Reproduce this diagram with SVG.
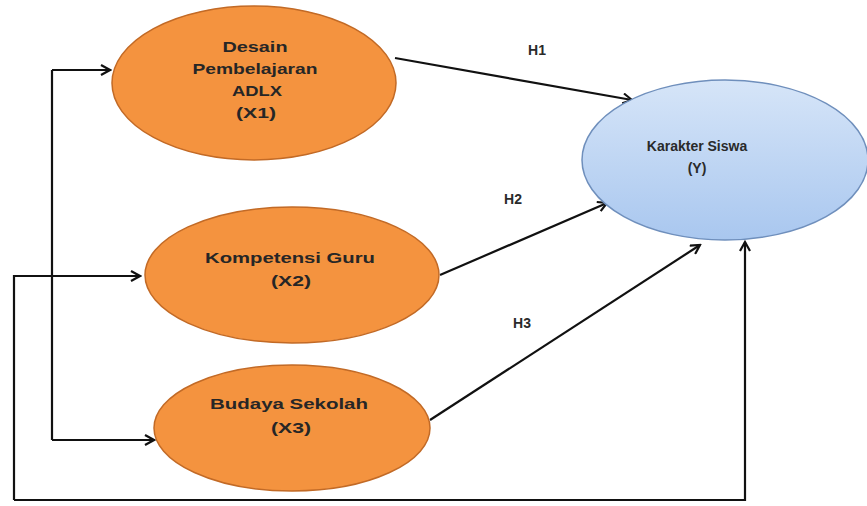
<svg xmlns="http://www.w3.org/2000/svg" width="867" height="506" viewBox="0 0 867 506">
<defs>
<linearGradient id="blue" x1="0" y1="0" x2="0" y2="1">
<stop offset="0" stop-color="#d6e5f8"/>
<stop offset="1" stop-color="#a9c7ef"/>
</linearGradient>
<marker id="arr" markerWidth="12" markerHeight="12" refX="10" refY="6" orient="auto" markerUnits="userSpaceOnUse">
<path d="M1,1 L10,6 L1,11" fill="none" stroke="#111" stroke-width="2.2"/>
</marker>
<style>
.o{fill:#f4933f;stroke:#c26a26;stroke-width:1.5}
.b{fill:url(#blue);stroke:#6f8fbc;stroke-width:1.5}
.t{font-family:"Liberation Sans",Arial,sans-serif;font-weight:bold;font-size:14px;fill:#2a2a2a;text-anchor:middle}
.w{font-size:15px;fill:#262626}
.c{fill:none;stroke:#111;stroke-width:2.2}
</style>
</defs>
<rect width="867" height="506" fill="#fff"/>
<g id="connectors">
<path class="c" d="M52,70 V440"/>
<path class="c" d="M52,70 H110" marker-end="url(#arr)"/>
<path class="c" d="M52,440 H154" marker-end="url(#arr)"/>
<path class="c" d="M14,500 V276 H140" marker-end="url(#arr)"/>
<path class="c" d="M14,500 H745 V242" marker-end="url(#arr)"/>
<path class="c" d="M395,58 L632,100" marker-end="url(#arr)"/>
<path class="c" d="M440,275 L607,203" marker-end="url(#arr)"/>
<path class="c" d="M430,420 L700,245" marker-end="url(#arr)"/>
<text class="t" x="537" y="55">H1</text>
<text class="t" x="513" y="204">H2</text>
<text class="t" x="522" y="328">H3</text>
</g>
<g id="X1">
<ellipse class="o" cx="254" cy="83" rx="142" ry="77"/>
<text class="t w" x="255" y="52" textLength="65" lengthAdjust="spacingAndGlyphs">Desain</text>
<text class="t w" x="255" y="74" textLength="125" lengthAdjust="spacingAndGlyphs">Pembelajaran</text>
<text class="t w" x="257" y="96" textLength="50" lengthAdjust="spacingAndGlyphs">ADLX</text>
<text class="t w" x="256" y="118" textLength="40" lengthAdjust="spacingAndGlyphs">(X1)</text>
</g>
<g id="X2">
<ellipse class="o" cx="292" cy="275" rx="147" ry="68"/>
<text class="t w" x="290" y="263" textLength="170" lengthAdjust="spacingAndGlyphs">Kompetensi Guru</text>
<text class="t w" x="291" y="286" textLength="40" lengthAdjust="spacingAndGlyphs">(X2)</text>
</g>
<g id="X3">
<ellipse class="o" cx="292" cy="428" rx="138" ry="63"/>
<text class="t w" x="289" y="409" textLength="158" lengthAdjust="spacingAndGlyphs">Budaya Sekolah</text>
<text class="t w" x="291" y="433" textLength="40" lengthAdjust="spacingAndGlyphs">(X3)</text>
</g>
<g id="Y">
<ellipse class="b" cx="725" cy="160" rx="143" ry="80"/>
<text class="t" x="697" y="151">Karakter Siswa</text>
<text class="t" x="697" y="173">(Y)</text>
</g>
</svg>
